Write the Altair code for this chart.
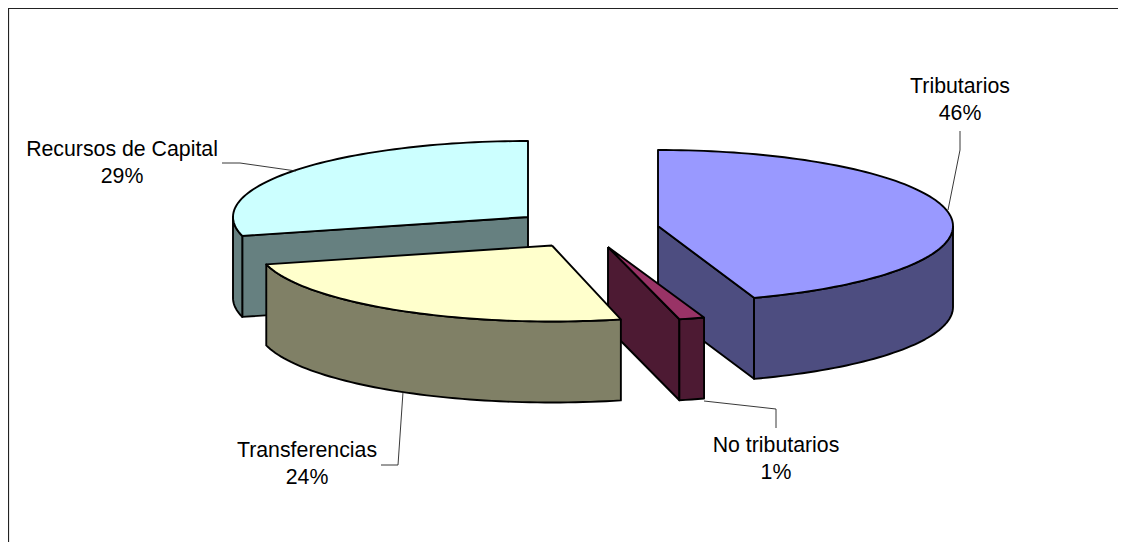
import math
import altair as alt
import pandas as pd

names = ["Tributarios", "No tributarios", "Transferencias", "Recursos de Capital"]
shares = [46, 1, 24, 29]
top_fill = ["#9999FF", "#993366", "#FFFFCC", "#CCFFFF"]
wall_fill = ["#4D4D80", "#4D1A33", "#808066", "#668080"]
# clockwise start angle from 12 o'clock of each exploded slice, degrees
starts = [0.0, 161.0, 166.5, 255.6]
ends = [161.0, 166.0, 255.6, 360.0]
hubs = [(658, 226), (608, 247), (552, 245.5), (528, 217)]
radii_y = [76, 74.5, 76, 76]
label_xy = [(960, 87), (776, 446), (307, 451), (122, 150)]
leaders = [
    [(960, 131), (960, 150), (948, 210)],
    [(704, 401), (776, 409), (776, 428)],
    [(381, 465), (398, 465), (403, 392)],
    [(222, 163), (240, 163), (296, 171)],
]
RX, DEPTH = 295, 81
W, H = 1110, 534
FONT = "Liberation Sans"
xs = alt.Scale(domain=[8, 8 + W], range=[0, W])
ys = alt.Scale(domain=[8, 8 + H], range=[0, H])


def rim(i, a0, a1, dy=0.0):
    hx, hy = hubs[i]
    n = max(2, int(abs(a1 - a0) / 1.5) + 2)
    out = []
    for k in range(n):
        t = math.radians(a0 + (a1 - a0) * k / (n - 1))
        out.append((hx + RX * math.sin(t), hy - radii_y[i] * math.cos(t) + dy))
    return out


def poly(points, fill, sw=1.9):
    pts = list(points) + [points[0]]
    df = pd.DataFrame({"x": [p[0] for p in pts], "y": [p[1] for p in pts], "o": range(len(pts))})
    return alt.Chart(df).mark_line(fill=fill, stroke="black", strokeWidth=sw, strokeJoin="round").encode(
        x=alt.X("x:Q", scale=xs, axis=None),
        y=alt.Y("y:Q", scale=ys, axis=None),
        order="o:Q",
    )


def slice_layers(i):
    hub = hubs[i]
    a0, a1 = starts[i], ends[i]
    out = []
    # radial face on the end edge, when it looks towards the viewer
    if i in (0, 1, 3):
        edge = a1 if i in (0, 1) else a0
        p = rim(i, edge, edge)[0]
        out.append(poly([hub, p, (p[0], p[1] + DEPTH), (hub[0], hub[1] + DEPTH)], wall_fill[i]))
    # outer wall: the part of the arc between 90 and 270 degrees
    w0, w1 = max(a0, 90), min(a1, 270)
    if w1 > w0:
        out.append(poly(rim(i, w0, w1) + rim(i, w1, w0, DEPTH), wall_fill[i]))
    out.append(poly([hub] + rim(i, a0, a1), top_fill[i]))
    return out


layers = []
for i in (3, 0, 1, 2):
    layers += slice_layers(i)

for i, path in enumerate(leaders):
    df = pd.DataFrame({"x": [p[0] for p in path], "y": [p[1] for p in path], "o": range(len(path))})
    layers.append(alt.Chart(df).mark_line(color="#222222", strokeWidth=0.9).encode(
        x=alt.X("x:Q", scale=xs, axis=None), y=alt.Y("y:Q", scale=ys, axis=None), order="o:Q"))

rows = []
for n, s, (x, y) in zip(names, shares, label_xy):
    rows.append({"x": x, "y": y, "t": n})
    rows.append({"x": x, "y": y + 27, "t": f"{s}%"})
layers.append(alt.Chart(pd.DataFrame(rows)).mark_text(
    font=FONT, fontSize=21.3, color="black", align="center", baseline="middle").encode(
    x=alt.X("x:Q", scale=xs, axis=None), y=alt.Y("y:Q", scale=ys, axis=None), text="t:N"))

frame = pd.DataFrame({"x": [8.5, 8.5, 1118], "y": [542, 8.5, 8.5], "o": [0, 1, 2]})
layers.append(alt.Chart(frame).mark_line(color="#222222", strokeWidth=1.2).encode(
    x=alt.X("x:Q", scale=xs, axis=None), y=alt.Y("y:Q", scale=ys, axis=None), order="o:Q"))

chart = alt.layer(*layers).properties(
    width=W, height=H, padding=0, autosize=alt.AutoSizeParams(type="none"),
    background="white",
).configure_view(stroke=None)
chart.save("out.html", embed_options={"renderer": "svg", "actions": False})
